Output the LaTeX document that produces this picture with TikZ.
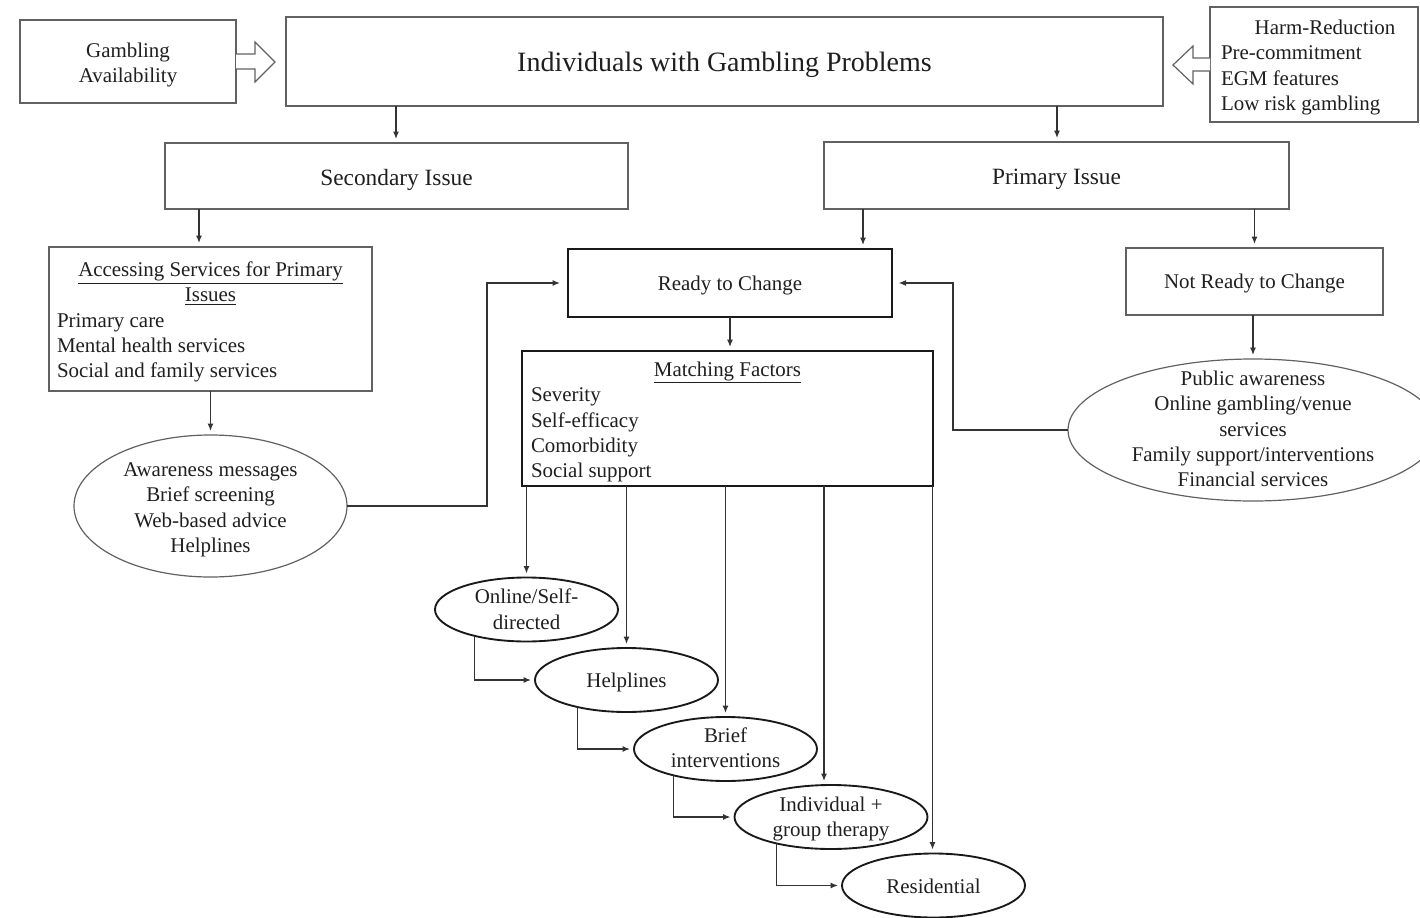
\documentclass[tikz,border=0pt]{standalone}
\usepackage{fontspec}
\setmainfont{Liberation Serif}
\usetikzlibrary{shapes.geometric,arrows.meta}
\newlength\pxu
\setlength\pxu{0.75pt}
\newcommand\bodyfont{\fontsize{15.7}{19}\selectfont}
\newcommand\headfont{\fontsize{17.5}{21}\selectfont}
\newcommand\titlefont{\fontsize{21}{25}\selectfont}
% lower contents without changing the reported size
\newcommand\low[2]{\raisebox{-#1}[\height][\depth]{#2}}
\newcommand\ml[2]{\raisebox{-#1}[\height][\depth]{\begin{tabular}{@{}c@{}}#2\end{tabular}}}
\begin{document}
\begin{tikzpicture}[x=0.75pt,y=-0.75pt,
  thinbox/.style={draw=black!62, line width=0.9pt, fill=white, inner sep=0pt, outer sep=0pt, anchor=north west, font=\bodyfont, text=black!88},
  thickbox/.style={draw=black!90, line width=1.4pt, fill=white, inner sep=0pt, outer sep=0pt, anchor=north west, font=\bodyfont, text=black!88},
  thinell/.style={ellipse, draw=black!62, line width=0.9pt, inner xsep=0pt, inner ysep=-20pt, outer sep=0pt, font=\bodyfont, text=black!88},
  thickell/.style={ellipse, draw=black!90, line width=1.4pt, inner xsep=0pt, inner ysep=-10pt, outer sep=0pt, minimum width=183\pxu, minimum height=64\pxu, font=\bodyfont, text=black!88},
  arr/.style={draw=black!80, line width=1pt, -{Latex[length=5.5pt,width=4.5pt]}, shorten >=3pt},
  blk/.style={draw=black!62, line width=0.9pt, fill=white, line join=miter}
]
\useasboundingbox (0,0) rectangle (1420,917);
\clip (0,0) rectangle (1420,917);

% top row
\node[thinbox, minimum width=216\pxu, minimum height=83\pxu] (ga) at (20,20) {\ml{2.6pt}{Gambling\\Availability}};
\node[thinbox, minimum width=877\pxu, minimum height=89\pxu, font=\titlefont] (main) at (286,17) {\low{2.2pt}{Individuals with Gambling Problems}};
\node[thinbox, minimum width=208\pxu, minimum height=115\pxu] (harm) at (1210,7) {\low{2.2pt}{%
  \begin{tabular}{@{}p{186\pxu}@{}}
  \multicolumn{1}{@{}c@{}}{\hspace*{22\pxu}Harm-Reduction}\\
  Pre-commitment\\
  EGM features\\
  Low risk gambling
  \end{tabular}}};

% block arrows
\draw[blk] (236,54) -- (255,54) -- (255,42) -- (275,62) -- (255,82) -- (255,69) -- (236,69);
\draw[blk] (1210,58) -- (1193,58) -- (1193,46) -- (1173,65) -- (1193,84) -- (1193,71) -- (1210,71);

% second row
\node[thinbox, minimum width=463\pxu, minimum height=66\pxu, font=\headfont] (sec) at (165,143) {\low{3pt}{Secondary Issue}};
\node[thinbox, minimum width=465\pxu, minimum height=67\pxu, font=\headfont] (prim) at (824,142) {\low{3pt}{Primary Issue}};

% third row
\node[thinbox, minimum width=323\pxu, minimum height=144\pxu] (acc) at (49,247) {\low{2.3pt}{%
  \begin{tabular}{@{}p{307\pxu}@{}}
  \multicolumn{1}{@{}c@{}}{\underline{Accessing Services for Primary}}\\
  \multicolumn{1}{@{}c@{}}{\underline{Issues}}\\
  Primary care\\
  Mental health services\\
  Social and family services
  \end{tabular}}};
\node[thickbox, minimum width=324\pxu, minimum height=68\pxu] (ready) at (568,249) {\low{1.6pt}{Ready to Change}};
\node[thinbox, minimum width=257\pxu, minimum height=67\pxu] (notready) at (1126,248) {\low{1.6pt}{Not Ready to Change}};

\node[thickbox, minimum width=411\pxu, minimum height=135\pxu] (match) at (522,351) {\low{2.6pt}{%
  \begin{tabular}{@{}p{393\pxu}@{}}
  \multicolumn{1}{@{}c@{}}{\underline{Matching Factors}}\\
  Severity\\
  Self-efficacy\\
  Comorbidity\\
  Social support
  \end{tabular}}};

% large ellipses
\node[thinell, minimum width=273\pxu, minimum height=142\pxu] (aware) at (210.5,506) {\ml{2.6pt}{Awareness messages\\Brief screening\\Web-based advice\\Helplines}};
\node[thinell, minimum width=370\pxu, minimum height=142\pxu] (pub) at (1253,430) {\ml{0.8pt}{Public awareness\\Online gambling/venue\\services\\Family support/interventions\\Financial services}};

% bottom ellipses
\node[thickell] (online) at (526.5,609.5) {\ml{1.5pt}{Online/Self-\\directed}};
\node[thickell] (help) at (626.5,680) {\low{1.5pt}{Helplines}};
\node[thickell] (brief) at (725.5,749) {\ml{0.8pt}{Brief\\interventions}};
\node[thickell, minimum width=193\pxu] (indiv) at (831,817) {\ml{1.5pt}{Individual +\\group therapy}};
\node[thickell] (resid) at (933.5,885.5) {\low{0.8pt}{Residential}};

% connectors
\draw[arr] ([xshift=231\pxu]sec.north west |- main.south) -- ([xshift=231\pxu]sec.north west);
\draw[arr] ([xshift=233\pxu]prim.north west |- main.south) -- ([xshift=233\pxu]prim.north west);
\draw[arr] ([xshift=150\pxu]acc.north west |- sec.south) -- ([xshift=150\pxu]acc.north west);
\draw[arr] ([xshift=295\pxu]ready.north west |- prim.south) -- ([xshift=295\pxu]ready.north west);
\draw[arr] (notready.north |- prim.south) -- (notready.north);
\draw[arr] (acc.south) -- (aware.north);
\draw[arr] (pub.north |- notready.south) -- (pub.north);
\draw[arr, shorten >=6pt] (aware.east) -- ++(140,0) |- (ready.west);
\draw[arr, shorten >=5pt] (pub.west) -- ++(-115,0) |- (ready.east);
\draw[arr] (ready.south) -- (ready.south |- match.north);

\draw[arr] (online.north |- match.south) -- (online.north);
\draw[arr] (help.north |- match.south) -- (help.north);
\draw[arr] (brief.north |- match.south) -- (brief.north);
\draw[arr] ([xshift=-7\pxu]indiv.north |- match.south) -- ([xshift=-7\pxu]indiv.north);
\draw[arr] ([xshift=-1\pxu]resid.north |- match.south) -- ([xshift=-1\pxu]resid.north);

\draw[arr] (online.207.6) |- (help.west);
\draw[arr] (help.209.6) |- (brief.west);
\draw[arr] (brief.207.6) |- (indiv.west);
\draw[arr] (indiv.206.1) |- (resid.west);
\end{tikzpicture}
\end{document}
